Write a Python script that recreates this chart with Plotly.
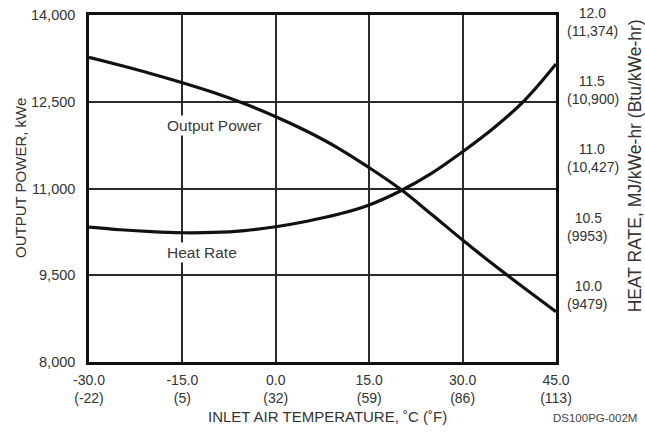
import plotly.graph_objects as go

# Inlet air temperature, deg C
temp_c = [-30, -25, -20, -15, -10, -5, 0, 5, 10, 15, 20, 25, 30, 35, 40, 45]
# Net output power, kWe
output_kwe = [13268, 13130, 12985, 12829, 12660, 12465, 12242, 11990, 11700,
              11360, 10990, 10555, 10109, 9680, 9270, 8870]
# Heat rate, MJ/kWe-hr
heat_rate = [10.497, 10.478, 10.464, 10.456, 10.458, 10.472, 10.500, 10.540, 10.591,
             10.660, 10.762, 10.891, 11.049, 11.223, 11.428, 11.692]

x_tick_vals = [-30, -15, 0, 15, 30, 45]
x_tick_text = ["-30.0<br>(-22)", "-15.0<br>(5)", "0.0<br>(32)", "15.0<br>(59)",
               "30.0<br>(86)", "45.0<br>(113)"]
power_tick_vals = [8000, 9500, 11000, 12500, 14000]
power_tick_text = ["8,000", "9,500", "11,000", "12,500", "14,000"]
hr_tick_vals = [10.0, 10.5, 11.0, 11.5, 12.0]
hr_tick_mj = ["10.0", "10.5", "11.0", "11.5", "12.0"]
hr_tick_btu = ["(9479)", "(9953)", "(10,427)", "(10,900)", "(11,374)"]
hr_pad = [2, 2, 3, 3, 3]

NB = "\u00a0"
hr_tick_text = [NB * p + m + "<br>" + b for p, m, b in zip(hr_pad, hr_tick_mj, hr_tick_btu)]

FONT = "Liberation Sans, Arial, sans-serif"
TXT = "#333333"
GRID = "#2b2b2b"

fig = go.Figure()
fig.add_trace(go.Scatter(x=temp_c, y=output_kwe, mode="lines", line_shape="spline",
                         line=dict(color="#111111", width=3.2), yaxis="y",
                         showlegend=False))
fig.add_trace(go.Scatter(x=temp_c, y=heat_rate, mode="lines", line_shape="spline",
                         line=dict(color="#111111", width=3.2), yaxis="y2",
                         showlegend=False))

fig.update_layout(
    width=645, height=437,
    margin=dict(l=89, r=89, t=15, b=75, autoexpand=False),
    paper_bgcolor="white", plot_bgcolor="white",
    font=dict(family=FONT, color=TXT, size=14),
    xaxis=dict(range=[-30, 45], tickvals=x_tick_vals, ticktext=x_tick_text,
               showgrid=True, gridcolor=GRID, gridwidth=1.8,
               showline=True, linecolor="#111111", linewidth=2.5, mirror=True,
               ticks="", zeroline=False, ticklabelstandoff=3, automargin=False,
               tickfont=dict(size=14, color=TXT)),
    yaxis=dict(range=[8000, 14000], tickvals=power_tick_vals, ticktext=power_tick_text,
               showgrid=True, gridcolor=GRID, gridwidth=1.8,
               showline=True, linecolor="#111111", linewidth=2.5, mirror=True,
               ticks="", zeroline=False, ticklabelstandoff=8, automargin=False,
               tickfont=dict(size=14.5, color=TXT)),
    yaxis2=dict(range=[9.509, 12.051], tickvals=hr_tick_vals, ticktext=hr_tick_text,
                overlaying="y", side="right", showgrid=False, zeroline=False,
                showline=False, ticks="", ticklabelstandoff=10, automargin=False,
                tickfont=dict(size=14, color=TXT)),
)

annotations = [
    dict(x=-17.8, y=12098, xref="x", yref="y", text="Output Power", showarrow=False,
         xanchor="left", yanchor="middle", bgcolor="white",
         font=dict(size=15.5, color="#3a3a3a")),
    dict(x=-17.8, y=9902, xref="x", yref="y", text="Heat Rate", showarrow=False,
         xanchor="left", yanchor="middle", bgcolor="white",
         font=dict(size=15.5, color="#3a3a3a")),
    dict(x=-0.148, y=0.53, xref="paper", yref="paper", text="OUTPUT POWER, kWe",
         textangle=-90, showarrow=False, xanchor="center", yanchor="middle",
         font=dict(size=15, color=TXT)),
    dict(x=1.17, y=0.565, xref="paper", yref="paper",
         text="HEAT RATE, MJ/kWe-hr (Btu/kWe-hr)",
         textangle=-90, showarrow=False, xanchor="center", yanchor="middle",
         font=dict(size=17.5, color=TXT)),
    dict(x=0.51, y=-0.158, xref="paper", yref="paper",
         text="INLET AIR TEMPERATURE, ˚C (˚F)", showarrow=False,
         xanchor="center", yanchor="middle", font=dict(size=15, color=TXT)),
    dict(x=1.178, y=-0.16, xref="paper", yref="paper", text="DS100PG-002M",
         showarrow=False, xanchor="right", yanchor="middle",
         font=dict(size=11.5, color="#444444")),
]
fig.update_layout(annotations=annotations)

fig.write_html("out.html")
